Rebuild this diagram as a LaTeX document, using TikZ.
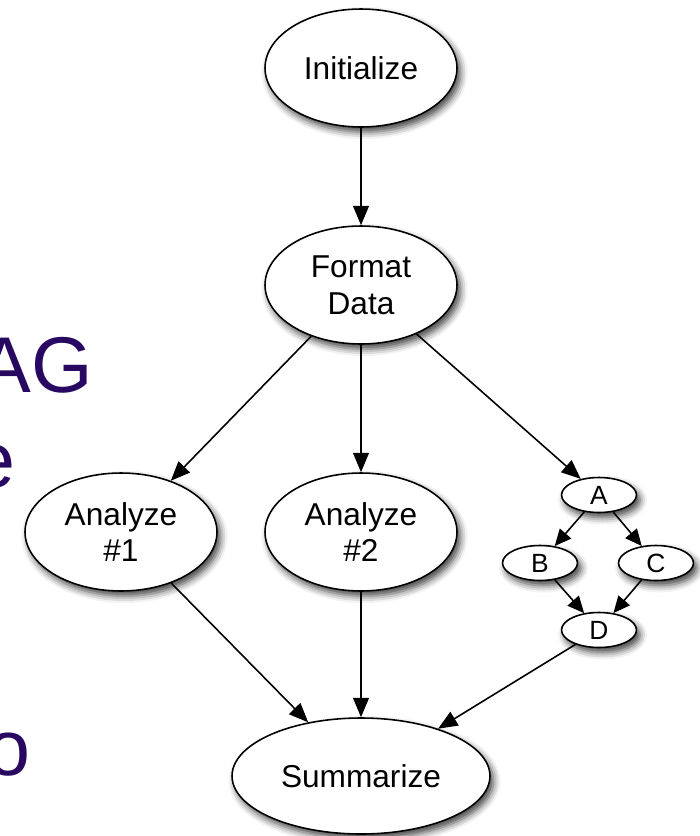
\documentclass[tikz,border=0pt]{standalone}
\usepackage{fontspec}
\setmainfont{Liberation Sans}
\usetikzlibrary{shapes.geometric,arrows.meta,shadows.blur}
\definecolor{slidepurple}{RGB}{40,8,96}

\begin{document}
\begin{tikzpicture}[x=0.02cm, y=-0.02cm]
  % Rahmen.
  \useasboundingbox (0, 0) rectangle (700, 836);
  \clip (0, 0) rectangle (700, 836);

  % Folientext.
  \tikzstyle{slide}=[text=slidepurple, inner sep=0pt, font=\fontsize{45}{54}\selectfont]
  \node[slide, anchor=base east] (dag) at (93, 392) {AG};
  \node[slide, anchor=base east] (e) at (16, 487) {e};
  \node[slide, anchor=base east] (o) at (31, 775) {o};

  % Graph.
  \tikzstyle{task}=[ellipse, draw, line width=0.9pt, fill=white, inner sep=0pt, align=center,
    blur shadow={shadow xshift=0.07cm, shadow yshift=-0.1cm, shadow blur radius=0.14cm, shadow opacity=75}]
  \tikzstyle{big}=[minimum width=3.84cm, minimum height=2.36cm, font=\fontsize{18}{21}\selectfont]
  \tikzstyle{small}=[minimum width=1.5cm, minimum height=0.7cm, font=\fontsize{15}{17}\selectfont]
  \tikzstyle{arrow}=[draw, line width=0.9pt, -{Triangle[length=11pt, width=9pt]}]
  \tikzstyle{tiny arrow}=[draw, line width=0.9pt, -{Triangle[length=9.5pt, width=8.5pt]}]

  \node[task, big] (init) at (361, 68) {Initialize};
  \node[task, big] (format) at (361, 285) {Format\\Data};
  \node[task, big] (ana1) at (121, 532) {Analyze\\\#1};
  \node[task, big] (ana2) at (361, 532) {Analyze\\\#2};
  \node[task, big, minimum width=5.16cm, minimum height=2.32cm] (sum) at (361, 776) {Summarize};

  \node[task, small] (a) at (599, 495) {A};
  \node[task, small] (b) at (540, 563) {B};
  \node[task, small] (c) at (656, 563) {C};
  \node[task, small] (d) at (599, 630) {D};

  \path[arrow] (init) edge (format);
  \path[arrow] (format) edge (ana1);
  \path[arrow] (format) edge (ana2);
  \path[arrow] (format) edge (a);
  \path[arrow] (ana1) edge (sum);
  \path[arrow] (ana2) edge (sum);
  \path[arrow] (d) edge (sum);

  \path[tiny arrow] (a) edge (b);
  \path[tiny arrow] (a) edge (c);
  \path[tiny arrow] (b) edge (d);
  \path[tiny arrow] (c) edge (d);
\end{tikzpicture}
\end{document}
